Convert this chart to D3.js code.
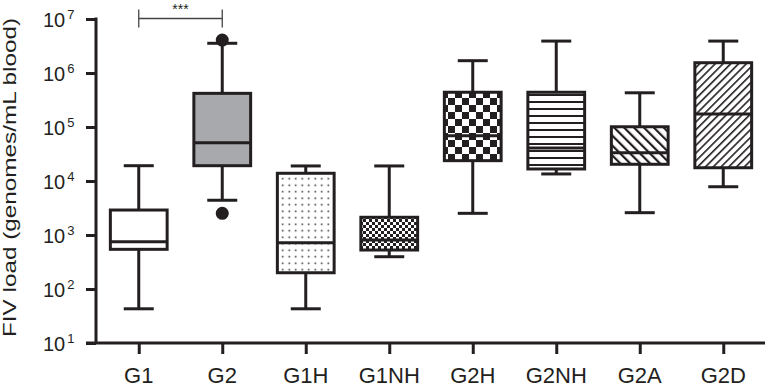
<!DOCTYPE html>
<html><head><meta charset="utf-8">
<script src="https://cdn.jsdelivr.net/npm/d3@7"></script>
<style>body{margin:0;background:#fff}svg{display:block}text{font-family:"Liberation Sans",Arial,sans-serif;fill:#231f20}</style>
</head><body>
<svg id="c" width="765" height="392"></svg>
<script>
const categories = ["G1","G2","G1H","G1NH","G2H","G2NH","G2A","G2D"];
const whiskerLow  = [43, 4400, 43, 396, 2520, 13500, 2590, 7830];
const q1Values    = [543, 19200, 200, 527, 23800, 16700, 20400, 17600];
const medianValues= [750, 51000, 720, 807, 69000, 41000, 33400, 174000];
const q3Values    = [2900, 420000, 13900, 2130, 440000, 440000, 101000, 1550000];
const whiskerHigh = [19200, 3550000, 19000, 19000, 1690000, 3900000, 430000, 3900000];
const outlierCats = ["G2","G2"];
const outlierValues = [4070000, 2520];
const yTickExponents = [1,2,3,4,5,6,7];
const yTitle = "FIV load (genomes/mL blood)";
const sigPair = ["G1","G2"];
const sigLabel = "***";

const ink = "#231f20";
const svg = d3.select("#c");
const x = d3.scalePoint().domain(categories).range([97,765]).padding(0.5);
const y = d3.scaleLog().domain([10,1e7]).range([343,19]);
const boxW = x.step()*0.68, capW = 30;

// patterns
const defs = svg.append("defs");
function pat(id,w,h){ return defs.append("pattern").attr("id",id).attr("patternUnits","userSpaceOnUse").attr("width",w).attr("height",h); }
let p = pat("dots",6.5,6.5); p.append("rect").attr("width",6.5).attr("height",6.5).attr("fill","#fff");
p.append("rect").attr("x",2.5).attr("y",2.5).attr("width",1.5).attr("height",1.5).attr("fill",ink);
p = pat("fine",6,6); p.append("rect").attr("width",6).attr("height",6).attr("fill","#fff");
p.append("rect").attr("width",3).attr("height",3).attr("fill",ink); p.append("rect").attr("x",3).attr("y",3).attr("width",3).attr("height",3).attr("fill",ink);
p = pat("check",14,14); p.append("rect").attr("width",14).attr("height",14).attr("fill","#fff");
p.append("rect").attr("width",7).attr("height",7).attr("fill",ink); p.append("rect").attr("x",7).attr("y",7).attr("width",7).attr("height",7).attr("fill",ink);
p = pat("hlines",7,7); p.append("rect").attr("width",7).attr("height",7).attr("fill","#fff");
p.append("rect").attr("y",3).attr("width",7).attr("height",2).attr("fill",ink);
p = pat("back",7,7).attr("patternTransform","rotate(-45)"); p.append("rect").attr("width",7).attr("height",7).attr("fill","#fff");
p.append("rect").attr("x",0).attr("width",2.2).attr("height",7).attr("fill",ink);
p = pat("fwd",5.5,5.5).attr("patternTransform","rotate(45)"); p.append("rect").attr("width",5.5).attr("height",5.5).attr("fill","#fff");
p.append("rect").attr("x",0).attr("width",1.6).attr("height",5.5).attr("fill",ink);
const fills = {G1:"#fff",G2:"#a7a9ac",G1H:"url(#dots)",G1NH:"url(#fine)",G2H:"url(#check)",G2NH:"url(#hlines)",G2A:"url(#back)",G2D:"url(#fwd)"};

// axes
const yAxis = svg.append("g").attr("transform","translate(96,0)")
  .call(d3.axisLeft(y).tickValues(yTickExponents.map(e=>Math.pow(10,e))).tickSize(10).tickSizeOuter(0).tickFormat(""));
yAxis.select(".domain").remove();
yAxis.selectAll(".tick line").attr("stroke",ink).attr("stroke-width",3);
svg.append("line").attr("x1",96).attr("x2",96).attr("y1",y(1e7)-1.5).attr("y2",y(10)).attr("stroke",ink).attr("stroke-width",3);
svg.append("line").attr("x1",86).attr("x2",765).attr("y1",y(10)).attr("y2",y(10)).attr("stroke",ink).attr("stroke-width",3);
const xAxis = svg.append("g").attr("transform",`translate(0,${y(10)})`)
  .call(d3.axisBottom(x).tickSize(11).tickSizeOuter(0).tickFormat(""));
xAxis.select(".domain").remove();
xAxis.selectAll(".tick line").attr("stroke",ink).attr("stroke-width",3);

svg.selectAll("text.xl").data(categories).join("text").attr("class","xl")
  .attr("x",d=>x(d)).attr("y",383).attr("text-anchor","middle").attr("font-size",22).text(d=>d);

const yl = svg.selectAll("text.yl").data(yTickExponents).join("text").attr("class","yl")
  .attr("x",43).attr("y",e=>y(Math.pow(10,e))+7.5).attr("text-anchor","start").attr("font-size",20);
yl.append("tspan").text("10");
yl.append("tspan").attr("dx",2).attr("dy",-8).attr("font-size",13).text(e=>e);

svg.append("text").attr("transform",`translate(15.5,${(337+18)/2}) rotate(-90)`).attr("text-anchor","middle")
  .attr("font-size",18).attr("textLength",319).attr("lengthAdjust","spacingAndGlyphs").text(yTitle);

// boxes
const g = svg.append("g");
categories.forEach((c,i)=>{
  const cx = x(c);
  const s = g.append("g").attr("stroke",ink).attr("stroke-width",3);
  s.append("line").attr("x1",cx).attr("x2",cx).attr("y1",y(whiskerHigh[i])).attr("y2",y(q3Values[i]));
  s.append("line").attr("x1",cx).attr("x2",cx).attr("y1",y(q1Values[i])).attr("y2",y(whiskerLow[i]));
  s.append("line").attr("x1",cx-capW/2).attr("x2",cx+capW/2).attr("y1",y(whiskerHigh[i])).attr("y2",y(whiskerHigh[i]));
  s.append("line").attr("x1",cx-capW/2).attr("x2",cx+capW/2).attr("y1",y(whiskerLow[i])).attr("y2",y(whiskerLow[i]));
  s.append("rect").attr("x",cx-boxW/2).attr("width",boxW).attr("y",y(q3Values[i])).attr("height",y(q1Values[i])-y(q3Values[i])).attr("fill",fills[c]);
  s.append("line").attr("x1",cx-boxW/2).attr("x2",cx+boxW/2).attr("y1",y(medianValues[i])).attr("y2",y(medianValues[i]));
});
g.selectAll("circle").data(outlierValues).join("circle").attr("cx",(d,i)=>x(outlierCats[i])).attr("cy",d=>y(d)).attr("r",6.5).attr("fill",ink);

// significance
const sy = 18.5;
svg.append("path").attr("d",`M${x(sigPair[0])},${sy-9}V${sy+9}M${x(sigPair[0])},${sy}H${x(sigPair[1])}M${x(sigPair[1])},${sy-9}V${sy+9}`)
  .attr("stroke","#444").attr("stroke-width",1.3).attr("fill","none");
svg.append("text").attr("x",(x(sigPair[0])+x(sigPair[1]))/2).attr("y",14).attr("text-anchor","middle").attr("font-size",14).text(sigLabel);
</script>
</body></html>
